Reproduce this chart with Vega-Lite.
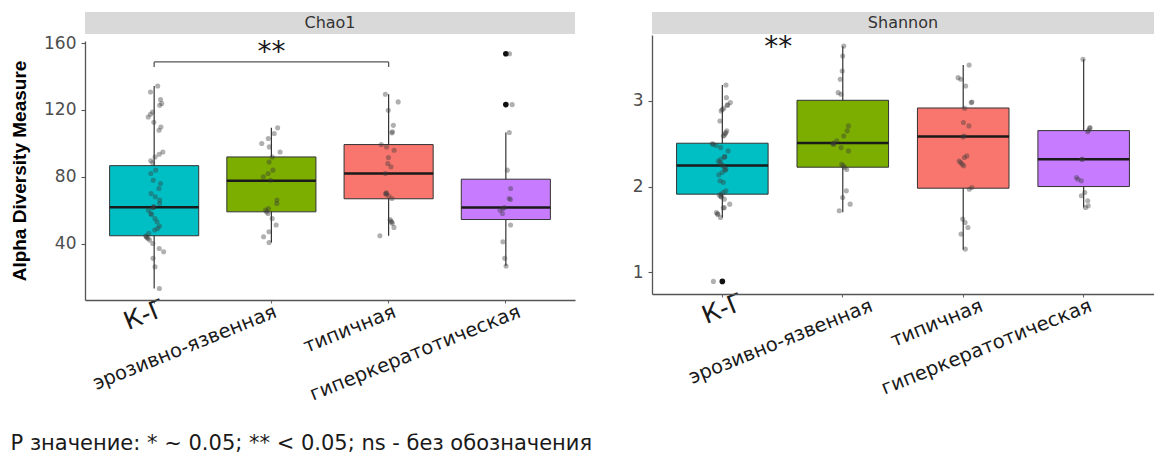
{
  "$schema": "https://vega.github.io/schema/vega-lite/v6.json",
  "background": "white",
  "padding": {"left": 10, "top": 12, "right": 0, "bottom": 0},
  "config": {
    "view": {"stroke": null},
    "font": "DejaVu Sans",
    "axis": {"grid": false, "domainColor": "#555555", "domainWidth": 1.3, "tickColor": "#555555", "tickWidth": 1.1}
  },
  "title": {
    "text": "P значение: * ~ 0.05; ** < 0.05; ns - без обозначения",
    "orient": "bottom", "anchor": "start", "offset": 29,
    "font": "DejaVu Sans", "fontSize": 21, "fontWeight": "normal", "color": "#1a1a1a"
  },
  "datasets": {
    "boxes": [
      {"m": "Chao1", "g": "К-Г", "lower": 13.3, "q1": 44.8, "median": 61.9, "q3": 86.7, "upper": 134.3},
      {"m": "Chao1", "g": "эрозивно-язвенная", "lower": 40.8, "q1": 59.1, "median": 77.6, "q3": 91.9, "upper": 109.3},
      {"m": "Chao1", "g": "типичная", "lower": 44.8, "q1": 66.9, "median": 82.0, "q3": 99.3, "upper": 129.4},
      {"m": "Chao1", "g": "гиперкератотическая", "lower": 26.7, "q1": 54.5, "median": 61.7, "q3": 78.6, "upper": 106.5},
      {"m": "Shannon", "g": "К-Г", "lower": 1.64, "q1": 1.912, "median": 2.246, "q3": 2.507, "upper": 3.186},
      {"m": "Shannon", "g": "эрозивно-язвенная", "lower": 1.70, "q1": 2.227, "median": 2.51, "q3": 3.008, "upper": 3.64},
      {"m": "Shannon", "g": "типичная", "lower": 1.263, "q1": 1.982, "median": 2.584, "q3": 2.918, "upper": 3.42},
      {"m": "Shannon", "g": "гиперкератотическая", "lower": 1.757, "q1": 2.001, "median": 2.32, "q3": 2.654, "upper": 3.486}
    ],
    "outliers": [
      {"m": "Chao1", "g": "гиперкератотическая", "v": 153.6},
      {"m": "Chao1", "g": "гиперкератотическая", "v": 123.2},
      {"m": "Shannon", "g": "К-Г", "v": 0.894}
    ],
    "signif": [
      {"m": "Chao1", "from": "К-Г", "to": "типичная", "mid": "эрозивно-язвенная", "y": 148.7, "tip": 145.7, "label": "**", "ly": 154.3},
      {"m": "Shannon", "from": "К-Г", "to": "эрозивно-язвенная", "mid": "К-Г", "label": "**", "ly": 3.613}
    ],
    "samples": [
      {"m": "Chao1", "g": "К-Г", "v": 134.3}, {"m": "Chao1", "g": "К-Г", "v": 130.7}, {"m": "Chao1", "g": "К-Г", "v": 126.2},
      {"m": "Chao1", "g": "К-Г", "v": 123.8}, {"m": "Chao1", "g": "К-Г", "v": 122.8}, {"m": "Chao1", "g": "К-Г", "v": 118.8},
      {"m": "Chao1", "g": "К-Г", "v": 117.4}, {"m": "Chao1", "g": "К-Г", "v": 115.8}, {"m": "Chao1", "g": "К-Г", "v": 112.6},
      {"m": "Chao1", "g": "К-Г", "v": 109.8}, {"m": "Chao1", "g": "К-Г", "v": 107.9}, {"m": "Chao1", "g": "К-Г", "v": 94.9},
      {"m": "Chao1", "g": "К-Г", "v": 93.5}, {"m": "Chao1", "g": "К-Г", "v": 91.9}, {"m": "Chao1", "g": "К-Г", "v": 89.6},
      {"m": "Chao1", "g": "К-Г", "v": 88.4}, {"m": "Chao1", "g": "К-Г", "v": 84.0}, {"m": "Chao1", "g": "К-Г", "v": 82.0},
      {"m": "Chao1", "g": "К-Г", "v": 78.0}, {"m": "Chao1", "g": "К-Г", "v": 76.0}, {"m": "Chao1", "g": "К-Г", "v": 73.0},
      {"m": "Chao1", "g": "К-Г", "v": 70.0}, {"m": "Chao1", "g": "К-Г", "v": 68.1}, {"m": "Chao1", "g": "К-Г", "v": 66.1},
      {"m": "Chao1", "g": "К-Г", "v": 64.1}, {"m": "Chao1", "g": "К-Г", "v": 62.1}, {"m": "Chao1", "g": "К-Г", "v": 61.7},
      {"m": "Chao1", "g": "К-Г", "v": 60.1}, {"m": "Chao1", "g": "К-Г", "v": 58.1}, {"m": "Chao1", "g": "К-Г", "v": 55.1},
      {"m": "Chao1", "g": "К-Г", "v": 53.1}, {"m": "Chao1", "g": "К-Г", "v": 50.6}, {"m": "Chao1", "g": "К-Г", "v": 49.2},
      {"m": "Chao1", "g": "К-Г", "v": 48.2}, {"m": "Chao1", "g": "К-Г", "v": 46.2}, {"m": "Chao1", "g": "К-Г", "v": 44.6},
      {"m": "Chao1", "g": "К-Г", "v": 44.2}, {"m": "Chao1", "g": "К-Г", "v": 43.2}, {"m": "Chao1", "g": "К-Г", "v": 42.2},
      {"m": "Chao1", "g": "К-Г", "v": 40.2}, {"m": "Chao1", "g": "К-Г", "v": 37.2}, {"m": "Chao1", "g": "К-Г", "v": 35.2},
      {"m": "Chao1", "g": "К-Г", "v": 31.3}, {"m": "Chao1", "g": "К-Г", "v": 26.3}, {"m": "Chao1", "g": "К-Г", "v": 13.3},
      {"m": "Chao1", "g": "К-Г", "v": 43.8}, {"m": "Chao1", "g": "К-Г", "v": 57.5}, {"m": "Chao1", "g": "К-Г", "v": 61.9},

      {"m": "Chao1", "g": "эрозивно-язвенная", "v": 109.3}, {"m": "Chao1", "g": "эрозивно-язвенная", "v": 105.9},
      {"m": "Chao1", "g": "эрозивно-язвенная", "v": 102.9}, {"m": "Chao1", "g": "эрозивно-язвенная", "v": 99.9},
      {"m": "Chao1", "g": "эрозивно-язвенная", "v": 97.9}, {"m": "Chao1", "g": "эрозивно-язвенная", "v": 94.9},
      {"m": "Chao1", "g": "эрозивно-язвенная", "v": 91.9}, {"m": "Chao1", "g": "эрозивно-язвенная", "v": 88.9},
      {"m": "Chao1", "g": "эрозивно-язвенная", "v": 84.0}, {"m": "Chao1", "g": "эрозивно-язвенная", "v": 82.0},
      {"m": "Chao1", "g": "эрозивно-язвенная", "v": 80.0}, {"m": "Chao1", "g": "эрозивно-язвенная", "v": 78.0},
      {"m": "Chao1", "g": "эрозивно-язвенная", "v": 66.1}, {"m": "Chao1", "g": "эрозивно-язвенная", "v": 64.1},
      {"m": "Chao1", "g": "эрозивно-язвенная", "v": 61.1}, {"m": "Chao1", "g": "эрозивно-язвенная", "v": 60.1},
      {"m": "Chao1", "g": "эрозивно-язвенная", "v": 59.1}, {"m": "Chao1", "g": "эрозивно-язвенная", "v": 58.1},
      {"m": "Chao1", "g": "эрозивно-язвенная", "v": 55.1}, {"m": "Chao1", "g": "эрозивно-язвенная", "v": 51.2},
      {"m": "Chao1", "g": "эрозивно-язвенная", "v": 47.2}, {"m": "Chao1", "g": "эрозивно-язвенная", "v": 44.2},
      {"m": "Chao1", "g": "эрозивно-язвенная", "v": 40.8},

      {"m": "Chao1", "g": "типичная", "v": 129.4}, {"m": "Chao1", "g": "типичная", "v": 124.8}, {"m": "Chao1", "g": "типичная", "v": 119.8},
      {"m": "Chao1", "g": "типичная", "v": 110.8}, {"m": "Chao1", "g": "типичная", "v": 106.9}, {"m": "Chao1", "g": "типичная", "v": 106.3},
      {"m": "Chao1", "g": "типичная", "v": 99.3}, {"m": "Chao1", "g": "типичная", "v": 97.9}, {"m": "Chao1", "g": "типичная", "v": 95.9},
      {"m": "Chao1", "g": "типичная", "v": 91.5}, {"m": "Chao1", "g": "типичная", "v": 88.0}, {"m": "Chao1", "g": "типичная", "v": 86.0},
      {"m": "Chao1", "g": "типичная", "v": 82.0}, {"m": "Chao1", "g": "типичная", "v": 70.4}, {"m": "Chao1", "g": "типичная", "v": 70.0},
      {"m": "Chao1", "g": "типичная", "v": 69.7}, {"m": "Chao1", "g": "типичная", "v": 68.5}, {"m": "Chao1", "g": "типичная", "v": 67.1},
      {"m": "Chao1", "g": "типичная", "v": 54.5}, {"m": "Chao1", "g": "типичная", "v": 53.5}, {"m": "Chao1", "g": "типичная", "v": 53.0},
      {"m": "Chao1", "g": "типичная", "v": 52.2}, {"m": "Chao1", "g": "типичная", "v": 49.8}, {"m": "Chao1", "g": "типичная", "v": 44.8},

      {"m": "Chao1", "g": "гиперкератотическая", "v": 153.6}, {"m": "Chao1", "g": "гиперкератотическая", "v": 123.2},
      {"m": "Chao1", "g": "гиперкератотическая", "v": 106.5}, {"m": "Chao1", "g": "гиперкератотическая", "v": 84.0},
      {"m": "Chao1", "g": "гиперкератотическая", "v": 73.0}, {"m": "Chao1", "g": "гиперкератотическая", "v": 67.1},
      {"m": "Chao1", "g": "гиперкератотическая", "v": 66.5}, {"m": "Chao1", "g": "гиперкератотическая", "v": 61.7},
      {"m": "Chao1", "g": "гиперкератотическая", "v": 61.1}, {"m": "Chao1", "g": "гиперкератотическая", "v": 60.1},
      {"m": "Chao1", "g": "гиперкератотическая", "v": 58.1}, {"m": "Chao1", "g": "гиперкератотическая", "v": 51.2},
      {"m": "Chao1", "g": "гиперкератотическая", "v": 41.2}, {"m": "Chao1", "g": "гиперкератотическая", "v": 31.3},
      {"m": "Chao1", "g": "гиперкератотическая", "v": 26.7},

      {"m": "Shannon", "g": "К-Г", "v": 3.187}, {"m": "Shannon", "g": "К-Г", "v": 3.039}, {"m": "Shannon", "g": "К-Г", "v": 2.981},
      {"m": "Shannon", "g": "К-Г", "v": 2.954}, {"m": "Shannon", "g": "К-Г", "v": 2.915}, {"m": "Shannon", "g": "К-Г", "v": 2.884},
      {"m": "Shannon", "g": "К-Г", "v": 2.767}, {"m": "Shannon", "g": "К-Г", "v": 2.651}, {"m": "Shannon", "g": "К-Г", "v": 2.631},
      {"m": "Shannon", "g": "К-Г", "v": 2.592}, {"m": "Shannon", "g": "К-Г", "v": 2.495}, {"m": "Shannon", "g": "К-Г", "v": 2.456},
      {"m": "Shannon", "g": "К-Г", "v": 2.417}, {"m": "Shannon", "g": "К-Г", "v": 2.347}, {"m": "Shannon", "g": "К-Г", "v": 2.320},
      {"m": "Shannon", "g": "К-Г", "v": 2.281}, {"m": "Shannon", "g": "К-Г", "v": 2.243}, {"m": "Shannon", "g": "К-Г", "v": 2.204},
      {"m": "Shannon", "g": "К-Г", "v": 2.165}, {"m": "Shannon", "g": "К-Г", "v": 2.138}, {"m": "Shannon", "g": "К-Г", "v": 2.068},
      {"m": "Shannon", "g": "К-Г", "v": 1.951}, {"m": "Shannon", "g": "К-Г", "v": 1.912}, {"m": "Shannon", "g": "К-Г", "v": 1.885},
      {"m": "Shannon", "g": "К-Г", "v": 1.854}, {"m": "Shannon", "g": "К-Г", "v": 1.796}, {"m": "Shannon", "g": "К-Г", "v": 1.757},
      {"m": "Shannon", "g": "К-Г", "v": 1.699}, {"m": "Shannon", "g": "К-Г", "v": 1.679}, {"m": "Shannon", "g": "К-Г", "v": 1.640},
      {"m": "Shannon", "g": "К-Г", "v": 0.894}, {"m": "Shannon", "g": "К-Г", "v": 2.95}, {"m": "Shannon", "g": "К-Г", "v": 2.90},
      {"m": "Shannon", "g": "К-Г", "v": 2.62}, {"m": "Shannon", "g": "К-Г", "v": 2.60}, {"m": "Shannon", "g": "К-Г", "v": 2.50},
      {"m": "Shannon", "g": "К-Г", "v": 2.48}, {"m": "Shannon", "g": "К-Г", "v": 2.30}, {"m": "Shannon", "g": "К-Г", "v": 2.26},
      {"m": "Shannon", "g": "К-Г", "v": 2.22}, {"m": "Shannon", "g": "К-Г", "v": 2.19}, {"m": "Shannon", "g": "К-Г", "v": 1.93},
      {"m": "Shannon", "g": "К-Г", "v": 1.90}, {"m": "Shannon", "g": "К-Г", "v": 1.88}, {"m": "Shannon", "g": "К-Г", "v": 1.75},
      {"m": "Shannon", "g": "К-Г", "v": 1.68}, {"m": "Shannon", "g": "К-Г", "v": 2.35}, {"m": "Shannon", "g": "К-Г", "v": 2.05},

      {"m": "Shannon", "g": "эрозивно-язвенная", "v": 3.641}, {"m": "Shannon", "g": "эрозивно-язвенная", "v": 3.525},
      {"m": "Shannon", "g": "эрозивно-язвенная", "v": 3.350}, {"m": "Shannon", "g": "эрозивно-язвенная", "v": 3.253},
      {"m": "Shannon", "g": "эрозивно-язвенная", "v": 3.097}, {"m": "Shannon", "g": "эрозивно-язвенная", "v": 3.078},
      {"m": "Shannon", "g": "эрозивно-язвенная", "v": 2.709}, {"m": "Shannon", "g": "эрозивно-язвенная", "v": 2.651},
      {"m": "Shannon", "g": "эрозивно-язвенная", "v": 2.592}, {"m": "Shannon", "g": "эрозивно-язвенная", "v": 2.534},
      {"m": "Shannon", "g": "эрозивно-язвенная", "v": 2.495}, {"m": "Shannon", "g": "эрозивно-язвенная", "v": 2.456},
      {"m": "Shannon", "g": "эрозивно-язвенная", "v": 2.417}, {"m": "Shannon", "g": "эрозивно-язвенная", "v": 2.262},
      {"m": "Shannon", "g": "эрозивно-язвенная", "v": 2.243}, {"m": "Shannon", "g": "эрозивно-язвенная", "v": 2.223},
      {"m": "Shannon", "g": "эрозивно-язвенная", "v": 1.951}, {"m": "Shannon", "g": "эрозивно-язвенная", "v": 1.873},
      {"m": "Shannon", "g": "эрозивно-язвенная", "v": 1.796}, {"m": "Shannon", "g": "эрозивно-язвенная", "v": 1.718},
      {"m": "Shannon", "g": "эрозивно-язвенная", "v": 2.51}, {"m": "Shannon", "g": "эрозивно-язвенная", "v": 2.50},
      {"m": "Shannon", "g": "эрозивно-язвенная", "v": 2.20},

      {"m": "Shannon", "g": "типичная", "v": 3.420}, {"m": "Shannon", "g": "типичная", "v": 3.272}, {"m": "Shannon", "g": "типичная", "v": 3.253},
      {"m": "Shannon", "g": "типичная", "v": 3.175}, {"m": "Shannon", "g": "типичная", "v": 2.988}, {"m": "Shannon", "g": "типичная", "v": 2.981},
      {"m": "Shannon", "g": "типичная", "v": 2.915}, {"m": "Shannon", "g": "типичная", "v": 2.748}, {"m": "Shannon", "g": "типичная", "v": 2.709},
      {"m": "Shannon", "g": "типичная", "v": 2.592}, {"m": "Shannon", "g": "типичная", "v": 2.581}, {"m": "Shannon", "g": "типичная", "v": 2.359},
      {"m": "Shannon", "g": "типичная", "v": 2.340}, {"m": "Shannon", "g": "типичная", "v": 2.281}, {"m": "Shannon", "g": "типичная", "v": 2.262},
      {"m": "Shannon", "g": "типичная", "v": 2.243}, {"m": "Shannon", "g": "типичная", "v": 1.990}, {"m": "Shannon", "g": "типичная", "v": 1.621},
      {"m": "Shannon", "g": "типичная", "v": 1.582}, {"m": "Shannon", "g": "типичная", "v": 1.524}, {"m": "Shannon", "g": "типичная", "v": 1.446},
      {"m": "Shannon", "g": "типичная", "v": 1.271}, {"m": "Shannon", "g": "типичная", "v": 2.30}, {"m": "Shannon", "g": "типичная", "v": 1.97},

      {"m": "Shannon", "g": "гиперкератотическая", "v": 3.486}, {"m": "Shannon", "g": "гиперкератотическая", "v": 2.689},
      {"m": "Shannon", "g": "гиперкератотическая", "v": 2.682}, {"m": "Shannon", "g": "гиперкератотическая", "v": 2.658},
      {"m": "Shannon", "g": "гиперкератотическая", "v": 2.320}, {"m": "Shannon", "g": "гиперкератотическая", "v": 2.107},
      {"m": "Shannon", "g": "гиперкератотическая", "v": 2.087}, {"m": "Shannon", "g": "гиперкератотическая", "v": 2.068},
      {"m": "Shannon", "g": "гиперкератотическая", "v": 1.932}, {"m": "Shannon", "g": "гиперкератотическая", "v": 1.893},
      {"m": "Shannon", "g": "гиперкератотическая", "v": 1.835}, {"m": "Shannon", "g": "гиперкератотическая", "v": 1.776},
      {"m": "Shannon", "g": "гиперкератотическая", "v": 1.757}, {"m": "Shannon", "g": "гиперкератотическая", "v": 2.32},
      {"m": "Shannon", "g": "гиперкератотическая", "v": 2.64}
    ]
  },
  "spacing": 57,
  "hconcat": [
    {
      "spacing": 0,
      "vconcat": [
        {
          "width": 490, "height": 22,
          "data": {"values": [{"metric": "Chao1"}]},
          "view": {"fill": "#d9d9d9", "stroke": null},
          "mark": {"type": "text", "font": "DejaVu Sans", "fontSize": 16, "color": "#333333"},
          "encoding": {"text": {"field": "metric", "type": "nominal"}}
        },
        {
          "width": 490, "height": 259,
          "resolve": {"scale": {"xOffset": "independent"}},
          "layer": [
            {
              "data": {"name": "boxes"},
              "transform": [{"filter": "datum.m === 'Chao1'"}],
              "mark": {"type": "rule", "color": "#333333", "strokeWidth": 1.2},
              "encoding": {
                "x": {
                  "field": "g", "type": "nominal", "sort": null,
                  "scale": {"domain": ["К-Г", "эрозивно-язвенная", "типичная", "гиперкератотическая"], "paddingInner": 0.24, "paddingOuter": 0.21},
                  "axis": {
                    "title": null, "tickSize": 3, "tickColor": "#666666",
                    "labelAngle": -22, "labelAlign": "right", "labelBaseline": "alphabetic",
                    "labelPadding": {"condition": {"test": "datum.value === 'К-Г'", "value": 11}, "value": 13},
                    "labelOffset": {"condition": [
                      {"test": "datum.value === 'К-Г'", "value": 12.9},
                      {"test": "datum.value === 'эрозивно-язвенная'", "value": 6.5},
                      {"test": "datum.value === 'типичная'", "value": 8.4}
                    ], "value": 16},
                    "labelFontSize": {"condition": {"test": "datum.value === 'К-Г'", "value": 25}, "value": 19.5},
                    "labelFont": "DejaVu Sans", "labelColor": "#1a1a1a",
                    "labelOverlap": false, "labelBound": false, "labelLimit": 400,
                    "encode": {"labels": {"update": {"angle": {"signal": "datum.value === 'К-Г' ? 0 : -22"}}}}
                  }
                },
                "y": {
                  "field": "lower", "type": "quantitative",
                  "scale": {"domain": [6.4, 161.2], "nice": false, "zero": false},
                  "axis": {
                    "title": "Alpha Diversity Measure", "titleFont": "Liberation Sans", "titleFontSize": 19,
                    "titleFontWeight": "bold", "titleColor": "#000000", "titlePadding": 14,
                    "values": [40, 80, 120, 160], "format": "d", "tickSize": 4, "labelPadding": 5,
                    "labelFont": "DejaVu Sans", "labelFontSize": 17, "labelColor": "#4d4d4d"
                  }
                },
                "y2": {"field": "upper"}
              }
            },
            {
              "data": {"name": "boxes"},
              "transform": [{"filter": "datum.m === 'Chao1'"}],
              "mark": {"type": "bar", "stroke": "#333333", "strokeWidth": 1},
              "encoding": {
                "x": {"field": "g", "type": "nominal"},
                "y": {"field": "q1", "type": "quantitative"},
                "y2": {"field": "q3"},
                "color": {
                  "field": "g", "type": "nominal", "legend": null,
                  "scale": {"domain": ["К-Г", "эрозивно-язвенная", "типичная", "гиперкератотическая"], "range": ["#00BFC4", "#7CAE00", "#F8766D", "#C77CFF"]}
                }
              }
            },
            {
              "data": {"name": "boxes"},
              "transform": [{"filter": "datum.m === 'Chao1'"}],
              "mark": {"type": "bar", "fillOpacity": 0, "stroke": "#1a1a1a", "strokeWidth": 2.5},
              "encoding": {
                "x": {"field": "g", "type": "nominal"},
                "y": {"field": "median", "type": "quantitative"},
                "y2": {"field": "median"}
              }
            },
            {
              "data": {"name": "outliers"},
              "transform": [{"filter": "datum.m === 'Chao1'"}],
              "mark": {"type": "point", "filled": true, "color": "#111111", "opacity": 1, "size": 32},
              "encoding": {
                "x": {"field": "g", "type": "nominal"},
                "y": {"field": "v", "type": "quantitative"}
              }
            },
            {
              "data": {"name": "samples"},
              "transform": [{"filter": "datum.m === 'Chao1'"}],
              "mark": {"type": "point", "filled": true, "color": "#3a3a3a", "opacity": 0.4, "size": 26},
              "encoding": {
                "x": {"field": "g", "type": "nominal"},
                "y": {"field": "v", "type": "quantitative"},
                "xOffset": {
                  "field": "v", "type": "quantitative",
                  "scale": {
                    "domain": [0, 5, 10, 15, 20, 25, 30, 35, 40, 45, 50, 55, 60, 65, 70, 75, 80, 85, 90, 95, 100, 105, 110, 115, 120, 125, 130, 135, 140, 145, 150, 155, 160],
                    "range": [36.5, 51.5, 42.5, 53.5, 34.5, 47.5, 39.5, 54.5, 43.5, 35.5, 50.5, 45.5, 38.5, 52.5, 41.5, 54.5, 36.5, 48.5, 40.5, 53.5, 34.5, 46.5, 51.5, 37.5, 44.5, 54.5, 39.5, 49.5, 35.5, 52.5, 42.5, 50.5, 38.5]
                  }
                }
              }
            },
            {
              "data": {"name": "signif"},
              "transform": [{"filter": "datum.m === 'Chao1'"}],
              "mark": {"type": "rule", "color": "#555555", "strokeWidth": 1.3},
              "encoding": {
                "x": {"field": "from", "type": "nominal"},
                "x2": {"field": "to"},
                "y": {"field": "y", "type": "quantitative"}
              }
            },
            {
              "data": {"name": "signif"},
              "transform": [{"filter": "datum.m === 'Chao1'"}],
              "mark": {"type": "rule", "color": "#555555", "strokeWidth": 1.3},
              "encoding": {
                "x": {"field": "from", "type": "nominal"},
                "y": {"field": "y", "type": "quantitative"},
                "y2": {"field": "tip"}
              }
            },
            {
              "data": {"name": "signif"},
              "transform": [{"filter": "datum.m === 'Chao1'"}],
              "mark": {"type": "rule", "color": "#555555", "strokeWidth": 1.3},
              "encoding": {
                "x": {"field": "to", "type": "nominal"},
                "y": {"field": "y", "type": "quantitative"},
                "y2": {"field": "tip"}
              }
            },
            {
              "data": {"name": "signif"},
              "transform": [{"filter": "datum.m === 'Chao1'"}],
              "mark": {"type": "text", "font": "DejaVu Sans", "fontSize": 28, "color": "#1a1a1a", "baseline": "middle"},
              "encoding": {
                "x": {"field": "mid", "type": "nominal"},
                "y": {"field": "ly", "type": "quantitative"},
                "text": {"field": "label"}
              }
            }
          ]
        }
      ]
    },
    {
      "spacing": 0,
      "vconcat": [
        {
          "width": 502, "height": 22,
          "data": {"values": [{"metric": "Shannon"}]},
          "view": {"fill": "#d9d9d9", "stroke": null},
          "mark": {"type": "text", "font": "DejaVu Sans", "fontSize": 16, "color": "#333333"},
          "encoding": {"text": {"field": "metric", "type": "nominal"}}
        },
        {
          "width": 502, "height": 259,
          "resolve": {"scale": {"xOffset": "independent"}},
          "layer": [
            {
              "data": {"name": "boxes"},
              "transform": [{"filter": "datum.m === 'Shannon'"}],
              "mark": {"type": "rule", "color": "#333333", "strokeWidth": 1.2},
              "encoding": {
                "x": {
                  "field": "g", "type": "nominal", "sort": null,
                  "scale": {"domain": ["К-Г", "эрозивно-язвенная", "типичная", "гиперкератотическая"], "paddingInner": 0.24, "paddingOuter": 0.204},
                  "axis": {
                    "title": null, "tickSize": 3, "tickColor": "#666666",
                    "labelAngle": -22, "labelAlign": "right", "labelBaseline": "alphabetic",
                    "labelPadding": {"condition": {"test": "datum.value === 'К-Г'", "value": 11}, "value": 13},
                    "labelOffset": {"condition": [
                      {"test": "datum.value === 'К-Г'", "value": 23},
                      {"test": "datum.value === 'эрозивно-язвенная'", "value": 31},
                      {"test": "datum.value === 'типичная'", "value": 21}
                    ], "value": 9.5},
                    "labelFontSize": {"condition": {"test": "datum.value === 'К-Г'", "value": 25}, "value": 19.5},
                    "labelFont": "DejaVu Sans", "labelColor": "#1a1a1a",
                    "labelOverlap": false, "labelBound": false, "labelLimit": 400,
                    "encode": {"labels": {"update": {"angle": {"signal": "datum.value === 'К-Г' ? 0 : -22"}}}}
                  }
                },
                "y": {
                  "field": "lower", "type": "quantitative",
                  "scale": {"domain": [0.747, 3.77], "nice": false, "zero": false},
                  "axis": {
                    "title": null, "values": [1, 2, 3], "format": "d", "tickSize": 4, "labelPadding": 5,
                    "labelFont": "DejaVu Sans", "labelFontSize": 17, "labelColor": "#4d4d4d"
                  }
                },
                "y2": {"field": "upper"}
              }
            },
            {
              "data": {"name": "boxes"},
              "transform": [{"filter": "datum.m === 'Shannon'"}],
              "mark": {"type": "bar", "stroke": "#333333", "strokeWidth": 1},
              "encoding": {
                "x": {"field": "g", "type": "nominal"},
                "y": {"field": "q1", "type": "quantitative"},
                "y2": {"field": "q3"},
                "color": {
                  "field": "g", "type": "nominal", "legend": null,
                  "scale": {"domain": ["К-Г", "эрозивно-язвенная", "типичная", "гиперкератотическая"], "range": ["#00BFC4", "#7CAE00", "#F8766D", "#C77CFF"]}
                }
              }
            },
            {
              "data": {"name": "boxes"},
              "transform": [{"filter": "datum.m === 'Shannon'"}],
              "mark": {"type": "bar", "fillOpacity": 0, "stroke": "#1a1a1a", "strokeWidth": 2.5},
              "encoding": {
                "x": {"field": "g", "type": "nominal"},
                "y": {"field": "median", "type": "quantitative"},
                "y2": {"field": "median"}
              }
            },
            {
              "data": {"name": "outliers"},
              "transform": [{"filter": "datum.m === 'Shannon'"}],
              "mark": {"type": "point", "filled": true, "color": "#111111", "opacity": 1, "size": 32},
              "encoding": {
                "x": {"field": "g", "type": "nominal"},
                "y": {"field": "v", "type": "quantitative"}
              }
            },
            {
              "data": {"name": "samples"},
              "transform": [{"filter": "datum.m === 'Shannon'"}],
              "mark": {"type": "point", "filled": true, "color": "#3a3a3a", "opacity": 0.4, "size": 26},
              "encoding": {
                "x": {"field": "g", "type": "nominal"},
                "y": {"field": "v", "type": "quantitative"},
                "xOffset": {
                  "field": "v", "type": "quantitative",
                  "scale": {
                    "domain": [0.5, 0.6, 0.7, 0.8, 0.9, 1.0, 1.1, 1.2, 1.3, 1.4, 1.5, 1.6, 1.7, 1.8, 1.9, 2.0, 2.1, 2.2, 2.3, 2.4, 2.5, 2.6, 2.7, 2.8, 2.9, 3.0, 3.1, 3.2, 3.3, 3.4, 3.5, 3.6, 3.7, 3.8],
                    "range": [37.7, 52.7, 43.7, 54.7, 35.7, 48.7, 40.7, 55.7, 44.7, 36.7, 51.7, 46.7, 39.7, 53.7, 42.7, 55.7, 37.7, 49.7, 41.7, 54.7, 35.7, 47.7, 52.7, 38.7, 45.7, 55.7, 40.7, 50.7, 36.7, 53.7, 43.7, 51.7, 39.7, 48.7]
                  }
                }
              }
            },
            {
              "data": {"name": "signif"},
              "transform": [{"filter": "datum.m === 'Shannon'"}],
              "mark": {"type": "text", "font": "DejaVu Sans", "fontSize": 28, "color": "#1a1a1a", "baseline": "middle"},
              "encoding": {
                "x": {"field": "mid", "type": "nominal", "bandPosition": 1.11},
                "y": {"field": "ly", "type": "quantitative"},
                "text": {"field": "label"}
              }
            }
          ]
        }
      ]
    }
  ]
}
